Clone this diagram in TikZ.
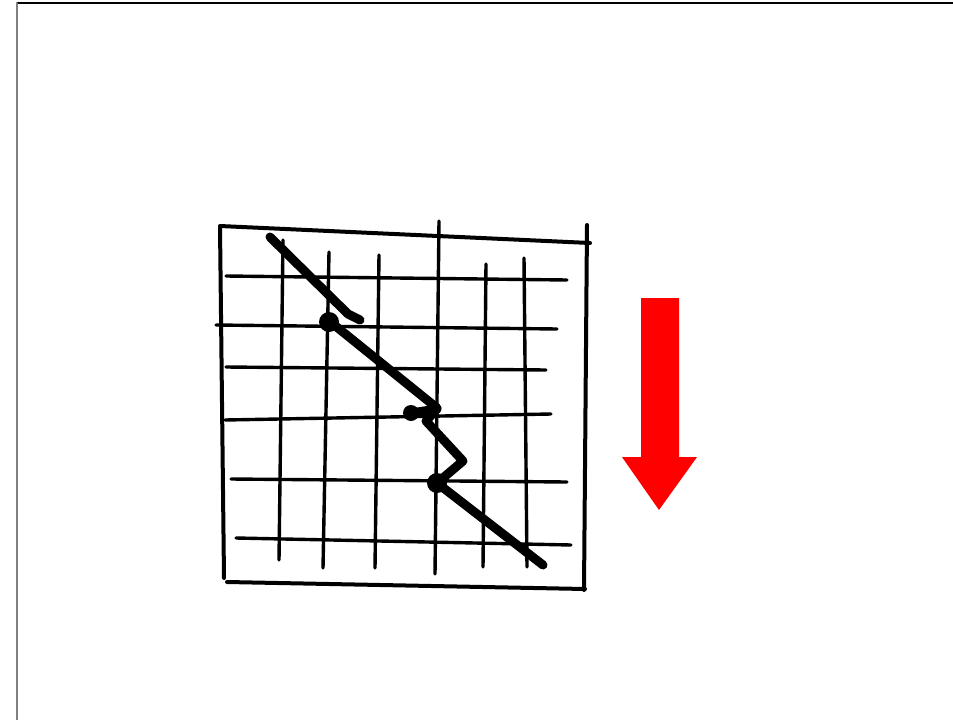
\documentclass[tikz,border=0pt]{standalone}
\usepackage{tikz}
\definecolor{sketchred}{RGB}{255, 0, 0}

\begin{document}
\begin{tikzpicture}[x=1pt, y=-1pt, line cap=round, line join=round]
        \useasboundingbox (0,0) rectangle (953,720);
        % page frame
        \draw[black, line width=1.2pt] (17,3) -- (953,3);
        \draw[gray, line width=1.5pt] (17,3) -- (17,720);
        % outer box
        \draw[line width=4pt] (220,226) -- (590,243);
        \draw[line width=4pt] (220,227) -- (224,578);
        \draw[line width=4pt] (587,225) -- (584,590);
        \draw[line width=4pt] (227,582) -- (585,589);
        % grid lines
        \foreach \xa/\ya/\xb/\yb in {283/240/279/560, 329/252/323/568, 379/255/375/568,
                                     439/221/435/574, 486/264/483/567, 524/258/527/567}
          \draw[line width=3.4pt] (\xa,\ya) -- (\xb,\yb);
        \foreach \xa/\ya/\xb/\yb in {226/276/567/280, 216/325/557/329, 226/367/546/370,
                                     225/420/551/414, 231/479/567/482, 236/538/571/545}
          \draw[line width=3.4pt] (\xa,\ya) -- (\xb,\yb);
        % crack
        \draw[line width=9pt] (270,237) -- (348,314) -- (360,320);
        \fill (329,322) circle (10);
        \draw[line width=9pt] (333,324) -- (437,408);
        \draw[line width=9pt] (411,413) -- (437,409) -- (426,421) -- (463,461) -- (437,483) -- (543,565);
        \fill (411,413) circle (8);
        \fill (437,483) circle (10);
        % arrow
        \fill[sketchred] (641,298) -- (679,298) -- (679,457) -- (697,457) -- (659,510)
                         -- (622,457) -- (641,457) -- cycle;
      \end{tikzpicture}
\end{document}
